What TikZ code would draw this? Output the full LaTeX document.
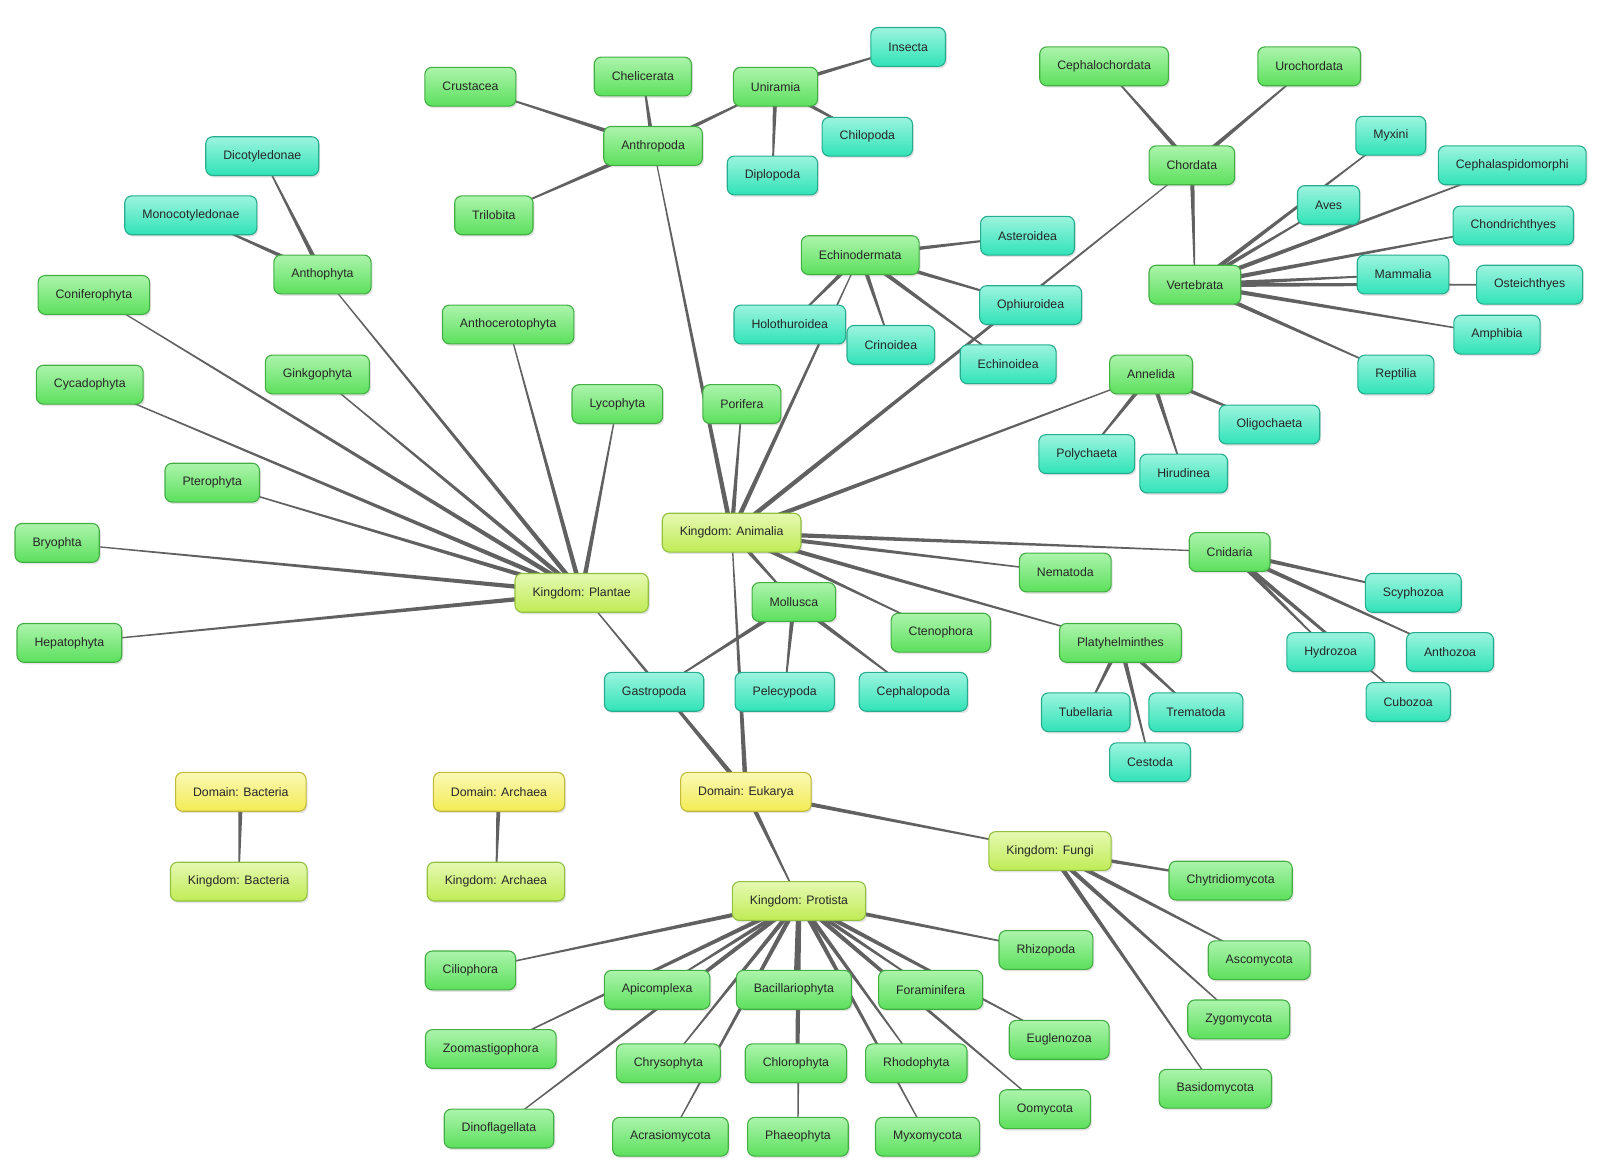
\documentclass[tikz,border=0pt]{standalone}
\usepackage{fontspec}
\setmainfont{Liberation Sans}
\usetikzlibrary{calc,backgrounds,shadows}

\definecolor{domfill}{HTML}{F2EC55}
\definecolor{domtop}{HTML}{FBF8B5}
\definecolor{domline}{HTML}{C2BB38}
\definecolor{kingfill}{HTML}{C0EC55}
\definecolor{kingtop}{HTML}{E5F9B2}
\definecolor{kingline}{HTML}{92C040}
\definecolor{phylfill}{HTML}{5CE05C}
\definecolor{phyltop}{HTML}{ACF4AC}
\definecolor{phylline}{HTML}{43AE43}
\definecolor{clsfill}{HTML}{30E3B8}
\definecolor{clstop}{HTML}{9CF4DE}
\definecolor{clsline}{HTML}{26AC8E}

\begin{document}
\begin{tikzpicture}[x=1.0204pt, y=-1.0204pt,
    font=\fontsize{12.3}{14}\selectfont, text=black!85,
    box/.style={rectangle, rounded corners=7pt, minimum height=38.8pt,
      inner xsep=17.5pt, line width=1.1pt,
      drop shadow={opacity=0.22, shadow xshift=1.5pt, shadow yshift=-2pt}},
    domainbox/.style={box, draw=domline, top color=domtop, bottom color=domfill},
    kingdombox/.style={box, draw=kingline, top color=kingtop, bottom color=kingfill},
    phylumbox/.style={box, draw=phylline, top color=phyltop, bottom color=phylfill},
    classbox/.style={box, draw=clsline, top color=clstop, bottom color=clsfill},
    % tapered connector: wide at the parent, thin at the child
    link/.style={fill=black!62, to path={
      ($(\tikztostart)!2.4pt!90:(\tikztotarget)$) --
      ($(\tikztotarget)!0.5pt!-90:(\tikztostart)$) --
      ($(\tikztotarget)!0.5pt!90:(\tikztostart)$) --
      ($(\tikztostart)!2.4pt!-90:(\tikztotarget)$) -- cycle}}
   ]
    \useasboundingbox (0,0) rectangle (1568,1143.6);

    % domains and kingdoms
    \node[domainbox] (bact) at (236,776) {Domain: Bacteria};
    \node[domainbox] (arch) at (489,776) {Domain: Archaea};
    \node[domainbox] (euk) at (731,776) {Domain: Eukarya};
    \node[kingdombox] (kbact) at (234,864) {Kingdom: Bacteria};
    \node[kingdombox] (karch) at (486,864) {Kingdom: Archaea};
    \node[kingdombox] (plantae) at (570,581) {Kingdom: Plantae};
    \node[kingdombox] (animalia) at (717,522) {Kingdom: Animalia};
    \node[kingdombox] (fungi) at (1029,834) {Kingdom: Fungi};
    \node[kingdombox] (protista) at (783,883) {Kingdom: Protista};

    % plantae
    \node[phylumbox] (hepato) at (68,630) {Hepatophyta};
    \node[phylumbox] (bryo) at (56,532) {Bryophta};
    \node[phylumbox] (ptero) at (208,473) {Pterophyta};
    \node[phylumbox] (cycado) at (88,377) {Cycadophyta};
    \node[phylumbox] (conifero) at (92,289) {Coniferophyta};
    \node[phylumbox] (ginkgo) at (311,367) {Ginkgophyta};
    \node[phylumbox] (anthophyta) at (316,269) {Anthophyta};
    \node[phylumbox] (anthocero) at (498,318) {Anthocerotophyta};
    \node[phylumbox] (lyco) at (605,396) {Lycophyta};
    \node[classbox] (dicot) at (257,153) {Dicotyledonae};
    \node[classbox] (monocot) at (187,211) {Monocotyledonae};

    % animalia
    \node[phylumbox] (arthro) at (640,143) {Anthropoda};
    \node[phylumbox] (crust) at (461,85) {Crustacea};
    \node[phylumbox] (chelic) at (630,75) {Chelicerata};
    \node[phylumbox] (unir) at (760,85) {Uniramia};
    \node[phylumbox] (trilo) at (484,211) {Trilobita};
    \node[classbox] (insecta) at (890,46) {Insecta};
    \node[classbox] (chilo) at (850,134) {Chilopoda};
    \node[classbox] (diplo) at (757,172) {Diplopoda};
    \node[phylumbox] (porifera) at (727,396) {Porifera};
    \node[phylumbox] (echino) at (843,250) {Echinodermata};
    \node[classbox] (astero) at (1007,231) {Asteroidea};
    \node[classbox] (holo) at (774,318) {Holothuroidea};
    \node[classbox] (crino) at (873,338) {Crinoidea};
    \node[classbox] (ophi) at (1010,299) {Ophiuroidea};
    \node[classbox] (echinoid) at (988,357) {Echinoidea};
    \node[phylumbox] (chordata) at (1168,162) {Chordata};
    \node[phylumbox] (cephalo) at (1082,65) {Cephalochordata};
    \node[phylumbox] (uro) at (1283,65) {Urochordata};
    \node[phylumbox] (verte) at (1171,279) {Vertebrata};
    \node[classbox] (myxini) at (1363,133) {Myxini};
    \node[classbox] (cephasp) at (1482,162) {Cephalaspidomorphi};
    \node[classbox] (aves) at (1302,201) {Aves};
    \node[classbox] (chondr) at (1483,221) {Chondrichthyes};
    \node[classbox] (mammalia) at (1375,269) {Mammalia};
    \node[classbox] (osteich) at (1499,279) {Osteichthyes};
    \node[classbox] (amphibia) at (1467,328) {Amphibia};
    \node[classbox] (reptilia) at (1368,367) {Reptilia};
    \node[phylumbox] (annelida) at (1128,367) {Annelida};
    \node[classbox] (oligo) at (1244,416) {Oligochaeta};
    \node[classbox] (poly) at (1065,445) {Polychaeta};
    \node[classbox] (hirud) at (1160,464) {Hirudinea};
    \node[phylumbox] (cnidaria) at (1205,541) {Cnidaria};
    \node[classbox] (scypho) at (1385,581) {Scyphozoa};
    \node[classbox] (hydro) at (1304,639) {Hydrozoa};
    \node[classbox] (anthozoa) at (1421,639) {Anthozoa};
    \node[classbox] (cubo) at (1380,688) {Cubozoa};
    \node[phylumbox] (nematoda) at (1044,561) {Nematoda};
    \node[phylumbox] (cteno) at (922,620) {Ctenophora};
    \node[phylumbox] (platy) at (1098,630) {Platyhelminthes};
    \node[classbox] (tubel) at (1064,698) {Tubellaria};
    \node[classbox] (trema) at (1172,698) {Trematoda};
    \node[classbox] (cestoda) at (1127,747) {Cestoda};
    \node[phylumbox] (mollusca) at (778,590) {Mollusca};
    \node[classbox] (gastro) at (641,678) {Gastropoda};
    \node[classbox] (pelecy) at (769,678) {Pelecypoda};
    \node[classbox] (cephpod) at (895,678) {Cephalopoda};

    % fungi
    \node[phylumbox] (chytri) at (1206,863) {Chytridiomycota};
    \node[phylumbox] (asco) at (1234,941) {Ascomycota};
    \node[phylumbox] (zygo) at (1214,999) {Zygomycota};
    \node[phylumbox] (basido) at (1191,1067) {Basidomycota};

    % protista
    \node[phylumbox] (cilio) at (461,951) {Ciliophora};
    \node[phylumbox] (apicom) at (644,970) {Apicomplexa};
    \node[phylumbox] (bacill) at (778,970) {Bacillariophyta};
    \node[phylumbox] (forami) at (912,970) {Foraminifera};
    \node[phylumbox] (rhizo) at (1025,931) {Rhizopoda};
    \node[phylumbox] (zoomast) at (481,1028) {Zoomastigophora};
    \node[phylumbox] (chryso) at (655,1042) {Chrysophyta};
    \node[phylumbox] (chloro) at (780,1042) {Chlorophyta};
    \node[phylumbox] (rhodo) at (898,1042) {Rhodophyta};
    \node[phylumbox] (euglen) at (1038,1019) {Euglenozoa};
    \node[phylumbox] (dino) at (489,1106) {Dinoflagellata};
    \node[phylumbox] (acrasio) at (657,1114) {Acrasiomycota};
    \node[phylumbox] (phaeo) at (782,1114) {Phaeophyta};
    \node[phylumbox] (myxo) at (909,1114) {Myxomycota};
    \node[phylumbox] (oomy) at (1024,1087) {Oomycota};

    \begin{pgfonlayer}{background}
    \fill[link] (bact) to (kbact);
    \fill[link] (arch) to (karch);
    \foreach \k in {plantae,animalia,fungi,protista}
      \fill[link] (euk) to (\k);
    \foreach \p in {hepato,bryo,ptero,cycado,conifero,ginkgo,anthophyta,anthocero,lyco}
      \fill[link] (plantae) to (\p);
    \foreach \c in {dicot,monocot}
      \fill[link] (anthophyta) to (\c);
    \foreach \p in {arthro,porifera,echino,chordata,annelida,cnidaria,nematoda,platy,cteno,mollusca}
      \fill[link] (animalia) to (\p);
    \foreach \s in {crust,chelic,unir,trilo}
      \fill[link] (arthro) to (\s);
    \foreach \c in {insecta,chilo,diplo}
      \fill[link] (unir) to (\c);
    \foreach \c in {astero,holo,crino,ophi,echinoid}
      \fill[link] (echino) to (\c);
    \foreach \s in {cephalo,uro,verte}
      \fill[link] (chordata) to (\s);
    \foreach \c in {myxini,cephasp,aves,chondr,mammalia,osteich,amphibia,reptilia}
      \fill[link] (verte) to (\c);
    \foreach \c in {oligo,poly,hirud}
      \fill[link] (annelida) to (\c);
    \foreach \c in {scypho,hydro,anthozoa,cubo}
      \fill[link] (cnidaria) to (\c);
    \foreach \c in {tubel,trema,cestoda}
      \fill[link] (platy) to (\c);
    \foreach \c in {gastro,pelecy,cephpod}
      \fill[link] (mollusca) to (\c);
    \foreach \p in {chytri,asco,zygo,basido}
      \fill[link] (fungi) to (\p);
    \foreach \p in {cilio,apicom,bacill,forami,rhizo,zoomast,chryso,chloro,rhodo,euglen,dino,acrasio,phaeo,myxo,oomy}
      \fill[link] (protista) to (\p);
    \end{pgfonlayer}
  \end{tikzpicture}
\end{document}
